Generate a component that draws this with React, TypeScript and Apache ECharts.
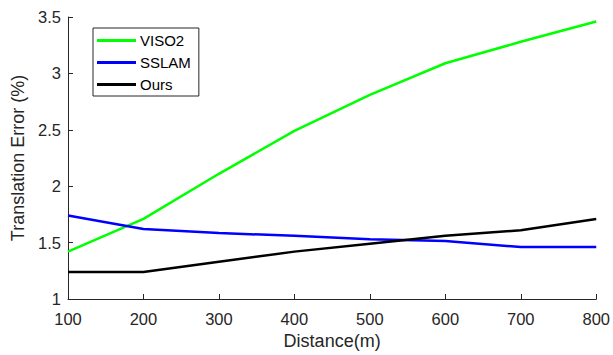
import React, { useEffect, useRef } from "react";
import * as echarts from "echarts";

const distances = [100, 200, 300, 400, 500, 600, 700, 800];
const viso2 = [1.42, 1.71, 2.11, 2.49, 2.81, 3.09, 3.28, 3.46];
const sslam = [1.74, 1.62, 1.585, 1.56, 1.53, 1.515, 1.46, 1.46];
const ours = [1.24, 1.24, 1.33, 1.42, 1.49, 1.56, 1.61, 1.71];
const seriesNames = ["VISO2", "SSLAM", "Ours"];
const seriesColors = ["#00ff00", "#0000ff", "#000000"];

export default function App() {
  const ref = useRef<HTMLDivElement>(null);
  useEffect(() => {
    if (!ref.current) return;
    const chart = echarts.init(ref.current, null, { renderer: "svg" });
    const all = [viso2, sslam, ours];
    const font = "'Liberation Sans', Arial, sans-serif";
    chart.setOption({
      animation: false,
      backgroundColor: "#ffffff",
      grid: { left: 68, right: 16, top: 17, bottom: 55 },
      legend: {
        orient: "vertical",
        left: 93,
        top: 28,
        data: seriesNames,
        icon: "rect",
        itemWidth: 39,
        itemHeight: 3,
        itemGap: 7,
        padding: [5, 8, 4, 4],
        borderColor: "#262626",
        borderWidth: 1,
        textStyle: { fontFamily: font, fontSize: 15, color: "#000", padding: [0, 0, 0, -1] },
      },
      xAxis: {
        type: "value",
        min: 100,
        max: 800,
        interval: 100,
        name: "Distance(m)",
        nameLocation: "middle",
        nameGap: 33,
        nameTextStyle: { fontFamily: font, fontSize: 18, color: "#262626" },
        axisLine: { lineStyle: { color: "#262626", width: 1 } },
        axisTick: { inside: true, length: 5, lineStyle: { color: "#262626" } },
        axisLabel: { fontFamily: font, fontSize: 16.5, color: "#262626", margin: 11 },
        splitLine: { show: false },
      },
      yAxis: {
        type: "value",
        min: 1,
        max: 3.5,
        interval: 0.5,
        name: "Translation Error (%)",
        nameLocation: "middle",
        nameGap: 40,
        nameTextStyle: { fontFamily: font, fontSize: 18, color: "#262626" },
        axisLine: { show: true, lineStyle: { color: "#262626", width: 1 } },
        axisTick: { show: true, inside: true, length: 5, lineStyle: { color: "#262626" } },
        axisLabel: { fontFamily: font, fontSize: 16.5, color: "#262626", margin: 7 },
        splitLine: { show: false },
      },
      series: seriesNames.map((name, i) => ({
        name,
        type: "line",
        showSymbol: false,
        symbol: "none",
        color: seriesColors[i],
        lineStyle: { color: seriesColors[i], width: 2.5 },
        data: distances.map((d, j) => [d, all[i][j]]),
      })),
    });
    return () => chart.dispose();
  }, []);
  return (
    <div
      ref={ref}
      style={{ position: "fixed", left: 0, top: 0, width: 613, height: 355 }}
    />
  );
}
